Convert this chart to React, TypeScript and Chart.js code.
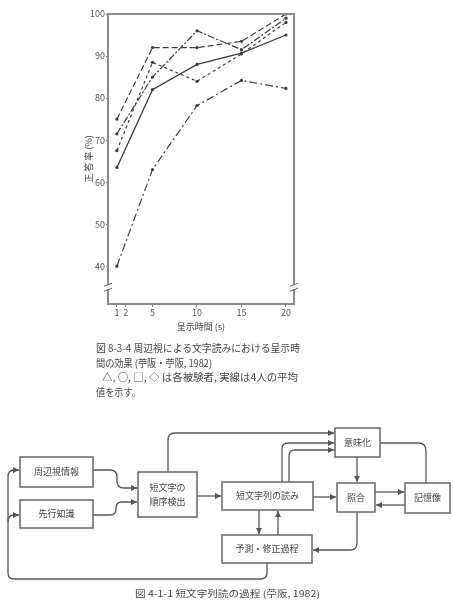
import React, { useEffect, useRef } from "react";
import { Chart, registerables } from "chart.js";

Chart.register(...registerables);

// ---- data ----
const times = [1, 5, 10, 15, 20];
const subjectA = [75, 92, 92, 93.5, 100];
const subjectB = [71.5, 85, 96, 91.5, 99];
const subjectC = [67.5, 88.5, 84, 90.5, 98];
const meanLine = [63.5, 82, 88, 90.7, 95];
const lowLine = [40, 63, 78.2, 84.2, 82.3];
const xTicks = [1, 2, 5, 10, 15, 20];
const yTicks = [40, 50, 60, 70, 80, 90, 100];
const breakValue = 35;
const xTitle = "呈示時間 (s)";
const yTitle = "正 答 率 (%)";

const FONT = '"Noto Sans CJK JP", "Noto Sans", sans-serif';
const INK = "#444";

const toPoints = (arr: number[]) => times.map((t, i) => ({ x: t, y: arr[i] }));

const framePlugin = {
  id: "frameBreak",
  afterDraw(chart: any) {
    const { ctx, chartArea, scales } = chart;
    const { left, right, top, bottom } = chartArea;
    ctx.save();
    ctx.strokeStyle = "#8a8a8a";
    ctx.lineWidth = 2;
    ctx.strokeRect(left, top, right - left, bottom - top);
    const yb = scales.y.getPixelForValue(breakValue);
    for (const x of [left, right]) {
      ctx.fillStyle = "#fff";
      ctx.fillRect(x - 3, yb - 2, 6, 4);
      ctx.strokeStyle = "#666";
      ctx.lineWidth = 1;
      ctx.beginPath();
      ctx.moveTo(x - 4, yb - 1);
      ctx.lineTo(x + 4, yb - 4);
      ctx.moveTo(x - 4, yb + 4);
      ctx.lineTo(x + 4, yb + 1);
      ctx.stroke();
    }
    ctx.restore();
  },
};

function LineChart() {
  const ref = useRef<HTMLCanvasElement | null>(null);
  useEffect(() => {
    if (!ref.current) return;
    const mk = (label: string, arr: number[], dash: number[], width = 1.2) => ({
      label,
      data: toPoints(arr),
      borderColor: "#3c3c3c",
      backgroundColor: "#3c3c3c",
      borderWidth: width,
      borderDash: dash,
      pointRadius: 1.6,
      pointBorderWidth: 0,
      tension: 0,
      fill: false,
    });
    const chart = new Chart(ref.current, {
      type: "line",
      data: {
        datasets: [
          mk("A", subjectA, [6, 3]),
          mk("B", subjectB, [7, 2, 2, 2]),
          mk("C", subjectC, [3, 3]),
          mk("平均", meanLine, [], 1.3),
          mk("D", lowLine, [8, 3, 2, 3]),
        ],
      },
      options: {
        animation: false,
        responsive: false,
        devicePixelRatio: 1,
        layout: { padding: { top: 14, right: 16, left: 0, bottom: 0 } },
        plugins: { legend: { display: false }, tooltip: { enabled: false } },
        scales: {
          x: {
            type: "linear",
            min: 0,
            max: 20.9,
            afterBuildTicks: (s: any) => {
              s.ticks = xTicks.map((v) => ({ value: v }));
            },
            afterFit: (s: any) => {
              s.height = 36;
            },
            grid: { display: true, drawOnChartArea: false, drawTicks: true, tickLength: 3, color: "#777" },
            border: { display: false },
            ticks: { padding: 0, color: "#555", autoSkip: false, maxRotation: 0, font: { size: 9, family: FONT } },
            title: { display: true, text: xTitle, color: INK, font: { size: 9, family: FONT }, padding: { top: 0, bottom: 7.6 } },
          },
          y: {
            type: "linear",
            min: 31,
            max: 100,
            afterBuildTicks: (s: any) => {
              s.ticks = yTicks.map((v) => ({ value: v }));
            },
            afterFit: (s: any) => {
              s.width = 38;
            },
            grid: { display: true, drawOnChartArea: false, drawTicks: true, tickLength: 2, color: "#777" },
            border: { display: false },
            ticks: { padding: 1, color: "#555", font: { size: 9, family: FONT } },
            title: { display: true, text: yTitle, color: INK, font: { size: 9, family: FONT }, padding: { top: 13.6, bottom: 0 } },
          },
        },
      },
      plugins: [framePlugin],
    } as any);
    return () => chart.destroy();
  }, []);
  return (
    <div style={{ position: "absolute", left: 70, top: 0, width: 240, height: 340 }}>
      <canvas ref={ref} width={240} height={340} style={{ width: 240, height: 340, display: "block" }} />
    </div>
  );
}

function Box({ x, y, w, h, lines }: { x: number; y: number; w: number; h: number; lines: string[] }) {
  const cx = x + w / 2;
  const cy = y + h / 2;
  const lh = 14;
  const start = cy - ((lines.length - 1) * lh) / 2;
  return (
    <g>
      <rect x={x} y={y} width={w} height={h} fill="#fff" stroke="#666" strokeWidth={1.5} />
      {lines.map((t, i) => (
        <text key={i} x={cx} y={start + i * lh + 3.3} fontSize={9} textAnchor="middle" fill={INK} fontFamily={FONT}>
          {t}
        </text>
      ))}
    </g>
  );
}

function Diagram() {
  const arrowed = [
    "M93 470 H110 Q117 470 117 477 V481 Q117 488 124 488 H137",
    "M93 515 H110 Q116 515 116 509 V508 Q116 502 122 502 H137",
    "M168 472 V440 Q168 433 175 433 H334",
    "M197 496 H221",
    "M282 482 V449 Q282 443 288 443 H334",
    "M289 482 V456 Q289 450 295 450 H334",
    "M357 457 V482",
    "M313 497 H336",
    "M375 492 H404",
    "M405 505 H376",
    "M259 510 V534",
    "M278 535 V511",
    "M357 512 V543 Q357 550 350 550 H313",
    "M267 563 V573 Q267 579 260 579 H14 Q8 579 8 573 V477 Q8 470 14 470 H19",
    "M8 522 Q8 515 14 515 H19",
  ];
  const plain = ["M380 443 H418 Q426 443 426 451 V483"];
  return (
    <svg
      width={454}
      height={608}
      style={{ position: "absolute", left: 0, top: 0, pointerEvents: "none" }}
    >
      <defs>
        <marker id="arr" markerUnits="userSpaceOnUse" markerWidth={6} markerHeight={6} refX={6} refY={3} orient="auto">
          <path d="M0 0 L6 3 L0 6 z" fill="#555" />
        </marker>
      </defs>
      {/* chart caption */}
      <g fill={INK} fontFamily={FONT} fontSize={10}>
        <text x={96} y={352} textLength={204} lengthAdjust="spacingAndGlyphs">図 8-3-4  周辺視による文字読みにおける呈示時</text>
        <text x={96} y={366.5} textLength={116} lengthAdjust="spacingAndGlyphs">間の効果 (苧阪・苧阪, 1982)</text>
        <text x={102} y={381} textLength={196} lengthAdjust="spacingAndGlyphs">△, ○, □, ◇ は各被験者, 実線は4人の平均</text>
        <text x={96} y={395.5} textLength={45} lengthAdjust="spacingAndGlyphs">値を示す。</text>
      </g>
      {plain.map((d, i) => (
        <path key={"p" + i} d={d} fill="none" stroke="#555" strokeWidth={1.3} />
      ))}
      {arrowed.map((d, i) => (
        <path key={"a" + i} d={d} fill="none" stroke="#555" strokeWidth={1.3} markerEnd="url(#arr)" />
      ))}
      <Box x={20} y={457} w={73} h={30} lines={["周辺視情報"]} />
      <Box x={20} y={500} w={73} h={28} lines={["先行知識"]} />
      <Box x={138} y={472} w={59} h={45} lines={["短文字の", "順序検出"]} />
      <Box x={222} y={482} w={91} h={28} lines={["短文字列の読み"]} />
      <Box x={222} y={535} w={90} h={28} lines={["予測・修正過程"]} />
      <Box x={335} y={428} w={45} h={29} lines={["意味化"]} />
      <Box x={337} y={483} w={38} h={29} lines={["照合"]} />
      <Box x={405} y={483} w={45} h={30} lines={["記憶像"]} />
      <text x={135} y={597} fontSize={9} fill={INK} fontFamily={FONT} textLength={185} lengthAdjust="spacingAndGlyphs">
        図 4-1-1  短文字列読の過程 (苧阪, 1982)
      </text>
    </svg>
  );
}

export default function App() {
  return (
    <div style={{ position: "absolute", left: 0, top: 0, width: 454, height: 608, background: "#fff", overflow: "hidden" }}>
      <LineChart />
      <Diagram />
    </div>
  );
}
